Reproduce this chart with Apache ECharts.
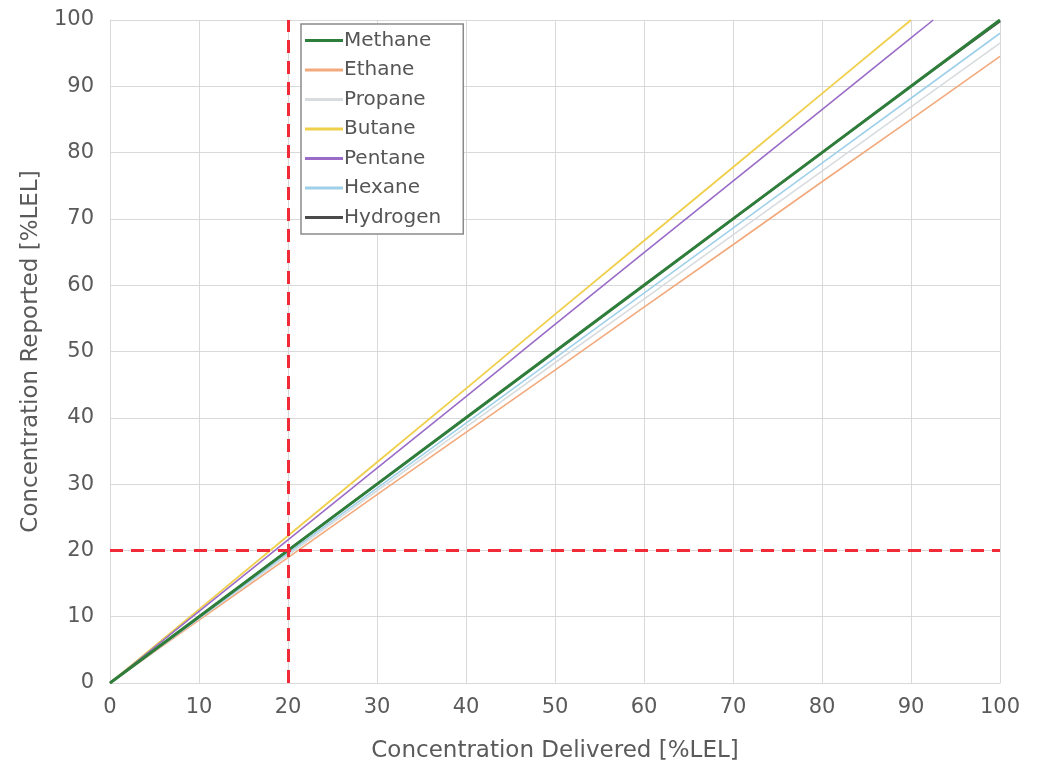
<!DOCTYPE html>
<html><head><meta charset="utf-8">
<script src="https://cdn.jsdelivr.net/npm/echarts@6/dist/echarts.min.js"></script>
<style>html,body{margin:0;padding:0;background:#fff}#c{width:1045px;height:770px}</style>
</head><body><div id="c"></div>
<script>
const delivered = [0,10,20,30,40,50,60,70,80,90,100];
const methane  = [0,10,20,30,40,50,60,70,80,90,100];
const ethane   = [0,9.5,18.9,28.4,37.8,47.2,56.7,66.1,75.6,85.0,94.5];
const propane  = [0,9.7,19.3,29.0,38.6,48.3,57.9,67.6,77.2,86.9,96.5];
const butaneX  = [0,10,20,30,40,50,60,70,80,90];
const butane   = [0,11.1,22.2,33.3,44.4,55.6,66.7,77.8,88.9,100];
const pentaneX = [0,10,20,30,40,50,60,70,80,90,92.5];
const pentane  = [0,10.8,21.6,32.4,43.2,54.1,64.9,75.7,86.5,97.3,100];
const hexane   = [0,9.8,19.6,29.4,39.2,49.0,58.8,68.6,78.4,88.2,98.0];
const hydrogen = [0,10,20,30,40,50,60,70,80,90,99.8];
const thresholdX = 20;
const thresholdY = 20;

const pair = (xs, ys) => xs.map((x,i)=>[x, ys[i]]);
const font = "'DejaVu Sans', sans-serif";
const txt = '#5a5a5a';

function s(name, xs, ys, color, width, z) {
  return {name, type:'line', data: pair(xs, ys), showSymbol:false, symbol:'none',
    lineStyle:{color, width}, itemStyle:{color}, z, animation:false};
}
const series = [
  s('Hydrogen', delivered, hydrogen, '#4a4a4a', 2, 3),
  s('Ethane', delivered, ethane, '#f2a97c', 1.6, 2),
  s('Propane', delivered, propane, '#d8dcdf', 1.6, 2),
  s('Hexane', delivered, hexane, '#9fd0ea', 1.6, 2),
  s('Butane', butaneX, butane, '#f0cf4a', 1.8, 2),
  s('Pentane', pentaneX, pentane, '#9a6cc8', 1.6, 2),
  s('Methane', delivered, methane, '#2f7d3a', 3, 4),
  {type:'line', data:[], z:5, silent:true,
   markLine:{symbol:'none', silent:true, animation:false, label:{show:false},
     lineStyle:{color:'#f02a36', width:3, type:[13,8]},
     data:[{xAxis: thresholdX}, {yAxis: thresholdY}]}}
];

const chart = echarts.init(document.getElementById('c'), null, {renderer:'canvas'});
chart.setOption({
  animation:false,
  backgroundColor:'#fff',
  grid:{left:110, right:45, top:20, bottom:87, containLabel:false},
  legend:{
    data:['Methane','Ethane','Propane','Butane','Pentane','Hexane','Hydrogen'],
    orient:'vertical', left:301, top:24, itemWidth:38, itemHeight:3, itemGap:8.5,
    padding:[6,22,6,4], backgroundColor:'#fff', borderColor:'#8a8a8a', borderWidth:1.5,
    icon:'rect',
    textStyle:{fontFamily:font, fontSize:20, lineHeight:21, color:'#555', padding:[0,0,0,-4]}
  },
  xAxis:{type:'value', min:0, max:100, interval:10,
    name:'Concentration Delivered [%LEL]', nameLocation:'middle', nameGap:57,
    nameTextStyle:{fontFamily:font, fontSize:23, color:txt},
    axisLine:{show:true, lineStyle:{color:'#d9d9d9'}}, axisTick:{show:false},
    axisLabel:{fontFamily:font, fontSize:21, color:txt, margin:14},
    splitLine:{show:true, lineStyle:{color:'#d9d9d9', width:1}}},
  yAxis:{type:'value', min:0, max:100, interval:10,
    name:'Concentration Reported [%LEL]', nameLocation:'middle', nameGap:62,
    nameTextStyle:{fontFamily:font, fontSize:23, color:txt},
    axisLine:{show:true, lineStyle:{color:'#d9d9d9'}}, axisTick:{show:false},
    axisLabel:{fontFamily:font, fontSize:21, color:txt, margin:16},
    splitLine:{show:true, lineStyle:{color:'#d9d9d9', width:1}}},
  series
});
</script></body></html>
